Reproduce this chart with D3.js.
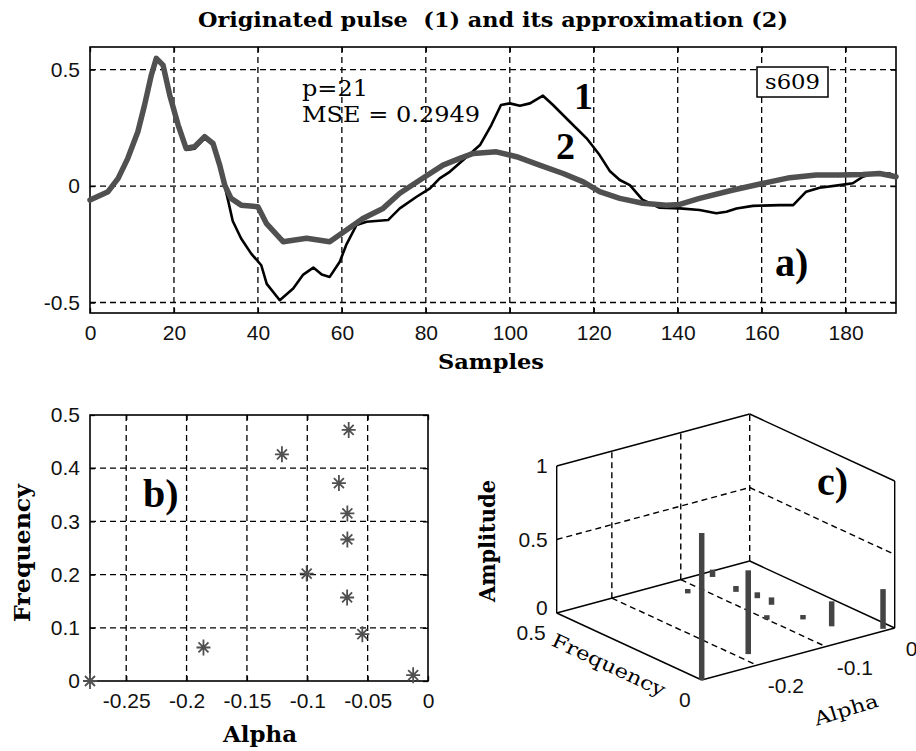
<!DOCTYPE html>
<html>
<head>
<meta charset="utf-8">
<script src="https://cdn.jsdelivr.net/npm/d3@7/dist/d3.min.js"></script>
<style>
body{margin:0;background:#fff;}
text{white-space:pre;}
</style>
</head>
<body>
<svg id="chart" width="916" height="751"></svg>
<script>
//originated pulse (1)
var pulseSamples = [0,2,4,6,8,10,12,13,14.4,15.6,17.2,19,21,22.9,24.9,27.3,29.3,30.9,32.1,33,34,36,38.4,40.8,42.1,45.2,48.4,50.8,53.2,55.2,57.1,59.5,61.1,63.5,65.9,71,73.8,77.8,81,83.3,85.7,88.9,92.9,95.6,97.9,100,102.4,104.8,107.9,110.3,114.3,118.3,121.4,123.8,126.2,128.6,131.7,135.7,140.5,145.2,149.2,151.6,154,157.9,164.3,167.5,170.6,173.8,178.6,181.7,184.1,186.5,190.5,192];
var pulseValues = [-0.06,-0.045,-0.025,0.02,0.08,0.16,0.27,0.35,0.47,0.55,0.52,0.39,0.26,0.155,0.16,0.205,0.175,0.085,0.0,-0.07,-0.15,-0.225,-0.29,-0.34,-0.42,-0.49,-0.44,-0.38,-0.35,-0.38,-0.39,-0.325,-0.25,-0.167,-0.153,-0.146,-0.096,-0.046,-0.01,0.033,0.061,0.112,0.176,0.262,0.348,0.355,0.345,0.355,0.388,0.348,0.276,0.205,0.133,0.065,0.026,0.004,-0.06,-0.093,-0.096,-0.103,-0.117,-0.11,-0.096,-0.085,-0.082,-0.082,-0.024,-0.007,0.004,0.012,0.04,0.054,0.054,0.04];

//its approximation (2)
var approxSamples = [0,4.3,6.7,9,11.4,13,14.6,15.8,17.4,19,21,22.9,24.9,27.3,29.3,30.9,32.1,33.6,36,40,42,46,51.6,57.1,61.1,65,69.8,73.8,78.6,84.1,88.1,91.3,96.8,101.6,107.1,112.7,117.5,121.4,126.2,131.7,137.3,140.5,145.2,153.2,161.1,166.7,173,178.6,184.1,188.1,192];
var approxValues = [-0.06,-0.024,0.033,0.119,0.233,0.348,0.476,0.548,0.519,0.39,0.262,0.162,0.169,0.212,0.183,0.09,0.004,-0.053,-0.082,-0.089,-0.16,-0.239,-0.224,-0.239,-0.189,-0.139,-0.096,-0.031,0.026,0.09,0.119,0.14,0.147,0.126,0.09,0.054,0.018,-0.024,-0.053,-0.074,-0.082,-0.079,-0.053,-0.017,0.015,0.036,0.047,0.047,0.05,0.054,0.04];

var sampleTicks = [0,20,40,60,80,100,120,140,160,180];
var pulseTicks = [-0.5,0,0.5];

//poles of the model: damping, frequency and amplitude
var poleAlpha = [-0.28,-0.186,-0.121,-0.1005,-0.0738,-0.0668,-0.0668,-0.067,-0.0657,-0.0544,-0.0123];
var poleFreq = [0,0.063,0.426,0.202,0.372,0.315,0.266,0.157,0.472,0.088,0.011];
var poleAmp = [1.0,0.57,0.03,0.03,0.04,0.04,0.05,0.03,0.05,0.17,0.27];

var alphaTicks = [-0.25,-0.2,-0.15,-0.1,-0.05,0];
var freqTicks = [0,0.1,0.2,0.3,0.4,0.5];
var alphaTicks3d = [-0.2,-0.1,0];
var freqTicks3d = [0,0.5];
var ampTicks3d = [0,0.5,1];

var svg = d3.select("#chart");
var serif = "'DejaVu Serif', serif";
var serifNarrow = "'Liberation Serif', serif";
var sans = "'Liberation Sans', Arial, sans-serif";
var dash = "6,4";

//puts a text on the svg, with an optional forced width
var addText = function(x, y, str, size, weight, anchor, family, len, rot)
{
    var t = svg.append("text")
        .attr("x", x)
        .attr("y", y)
        .attr("font-family", family || serif)
        .attr("font-size", size)
        .attr("font-weight", weight || "normal")
        .attr("text-anchor", anchor || "start")
        .text(str);
    if (len) { t.attr("textLength", len).attr("lengthAdjust", "spacingAndGlyphs"); }
    if (rot) { t.attr("transform", "rotate(" + rot + "," + x + "," + y + ")"); }
    return t;
}

//frame, dashed grid and inward ticks of a 2d panel
var drawPanel = function(xScale, yScale, xTicks, yTicks)
{
    var g = svg.append("g");
    var x0 = xScale.range()[0], x1 = xScale.range()[1];
    var y0 = yScale.range()[0], y1 = yScale.range()[1];

    g.selectAll(".gx").data(xTicks.filter(function(d){ return xScale(d) > x0 + 1 && xScale(d) < x1 - 1; }))
        .enter().append("line")
        .attr("x1", function(d){ return xScale(d); })
        .attr("x2", function(d){ return xScale(d); })
        .attr("y1", y0).attr("y2", y1)
        .attr("stroke", "#000").attr("stroke-width", 1.3).attr("stroke-dasharray", dash);

    g.selectAll(".gy").data(yTicks.filter(function(d){ return yScale(d) < y0 - 1 && yScale(d) > y1 + 1; }))
        .enter().append("line")
        .attr("y1", function(d){ return yScale(d); })
        .attr("y2", function(d){ return yScale(d); })
        .attr("x1", x0).attr("x2", x1)
        .attr("stroke", "#000").attr("stroke-width", 1.3).attr("stroke-dasharray", dash);

    var fmt = function(d){ return String(d); };

    var axes = [
        [d3.axisBottom(xScale).tickValues(xTicks).tickFormat(fmt).tickPadding(12), "translate(0," + y0 + ")"],
        [d3.axisTop(xScale).tickValues(xTicks).tickFormat(""), "translate(0," + y1 + ")"],
        [d3.axisLeft(yScale).tickValues(yTicks).tickFormat(fmt).tickPadding(10), "translate(" + x0 + ",0)"],
        [d3.axisRight(yScale).tickValues(yTicks).tickFormat(""), "translate(" + x1 + ",0)"]
    ];
    axes.forEach(function(a)
    {
        var ax = g.append("g")
            .attr("transform", a[1])
            .call(a[0].tickSize(-5).tickSizeOuter(0));
        ax.select(".domain").remove();
        ax.attr("font-family", sans).attr("font-size", 21);
        ax.selectAll("text").attr("fill", "#111");
        ax.selectAll("line").attr("stroke", "#000").attr("stroke-width", 1.3);
    });

    g.append("rect")
        .attr("x", x0).attr("y", y1)
        .attr("width", x1 - x0).attr("height", y0 - y1)
        .attr("fill", "none").attr("stroke", "#000").attr("stroke-width", 1.6);
    return g;
}

// ---------- a) pulse and approximation ----------
var xA = d3.scaleLinear().domain([0,192]).range([90,896]);
var yA = d3.scaleLinear().domain([-0.545,0.597]).range([313,47]);
drawPanel(xA, yA, sampleTicks, pulseTicks);

var pulseLine = d3.line()
    .x(function(d){ return xA(d[0]); })
    .y(function(d){ return yA(d[1]); });

svg.append("path")
    .datum(d3.zip(pulseSamples, pulseValues))
    .attr("d", pulseLine)
    .attr("fill", "none").attr("stroke", "#000").attr("stroke-width", 2.6)
    .attr("stroke-linejoin", "round");

svg.append("path")
    .datum(d3.zip(approxSamples, approxValues))
    .attr("d", pulseLine)
    .attr("fill", "none").attr("stroke", "#505050").attr("stroke-width", 5.5)
    .attr("stroke-linejoin", "round").attr("stroke-linecap", "round");

addText(493, 27, "Originated pulse  (1) and its approximation (2)", 21, "bold", "middle", serif, 590);
addText(491, 369, "Samples", 21, "bold", "middle", serif, 106);
addText(302, 96, "p=21", 22, "normal", "start", serif, 66);
addText(302, 122, "MSE = 0.2949", 22, "normal", "start", serif, 178);
addText(574, 109, "1", 38, "bold", "start", serifNarrow);
addText(556, 159, "2", 38, "bold", "start", serifNarrow);
addText(775, 276, "a)", 40, "bold", "start", serifNarrow);

svg.append("rect")
    .attr("x", 757).attr("y", 67).attr("width", 71).attr("height", 30)
    .attr("fill", "#fff").attr("stroke", "#000").attr("stroke-width", 1.5);
addText(792.5, 89, "s609", 21, "normal", "middle", serif, 55);

// ---------- b) poles on the alpha / frequency plane ----------
var xB = d3.scaleLinear().domain([-0.28,0]).range([90,428]);
var yB = d3.scaleLinear().domain([0,0.5]).range([681,415]);
drawPanel(xB, yB, alphaTicks, freqTicks);

var star = "M-7,0H7M0,-8V8M-5,-5L5,5M-5,5L5,-5";
svg.append("g").selectAll("path")
    .data(d3.zip(poleAlpha, poleFreq))
    .enter().append("path")
    .attr("d", star)
    .attr("transform", function(d){ return "translate(" + xB(d[0]) + "," + yB(d[1]) + ")"; })
    .attr("stroke", "#505050").attr("stroke-width", 1.8).attr("fill", "none");

addText(260, 742, "Alpha", 22, "bold", "middle", serif, 74);
addText(30, 553, "Frequency", 22, "bold", "middle", serif, 138, -90);
addText(143, 507, "b)", 40, "bold", "start", serifNarrow);

// ---------- c) amplitudes in 3d ----------
var aS = d3.scaleLinear().domain([-0.28,0]).range([0,1]);
var fS = d3.scaleLinear().domain([0,0.5]).range([0,1]);
var zS = d3.scaleLinear().domain([0,1]).range([0,1]);
var origin = [701.7, 680];
var vecA = [193, -52], vecF = [-145, -67], vecZ = [0, -147];

//projects a point (alpha, frequency, amplitude) onto the page
var proj = function(a, f, z)
{
    var u = aS(a), v = fS(f), w = zS(z);
    return [origin[0] + u*vecA[0] + v*vecF[0] + w*vecZ[0],
            origin[1] + u*vecA[1] + v*vecF[1] + w*vecZ[1]];
}

var seg = function(p, q, dashed, width)
{
    svg.append("line")
        .attr("x1", p[0]).attr("y1", p[1])
        .attr("x2", q[0]).attr("y2", q[1])
        .attr("stroke", "#000")
        .attr("stroke-width", width || 1.4)
        .attr("stroke-dasharray", dashed ? dash : null);
}

var aMin = -0.28, aMax = 0, fMax = 0.5;

//dashed grid on the back walls and the floor
alphaTicks3d.filter(function(d){ return d < aMax; }).forEach(function(a)
{
    seg(proj(a, fMax, 0), proj(a, fMax, 1), true);
    seg(proj(a, fMax, 0), proj(a, 0, 0), true);
});
seg(proj(aMin, fMax, 0.5), proj(aMax, fMax, 0.5), true);
seg(proj(aMax, fMax, 0.5), proj(aMax, 0, 0.5), true);
seg(proj(aMax, fMax, 0), proj(aMax, fMax, 1), true);

//box edges
seg(proj(aMin, fMax, 0), proj(aMin, fMax, 1));
seg(proj(aMax, 0, 0), proj(aMax, 0, 1));
seg(proj(aMin, fMax, 1), proj(aMax, fMax, 1));
seg(proj(aMax, fMax, 1), proj(aMax, 0, 1));
seg(proj(aMin, fMax, 0), proj(aMax, fMax, 0));
seg(proj(aMax, fMax, 0), proj(aMax, 0, 0));
seg(proj(aMin, fMax, 0), proj(aMin, 0, 0));
seg(proj(aMin, 0, 0), proj(aMax, 0, 0));

//stems, drawn from back to front
var stems = d3.range(poleAlpha.length).map(function(i)
{
    return {a: poleAlpha[i], f: poleFreq[i], z: poleAmp[i]};
});
stems.sort(function(p, q){ return proj(p.a, p.f, 0)[1] - proj(q.a, q.f, 0)[1]; });
svg.append("g").selectAll("line")
    .data(stems)
    .enter().append("line")
    .attr("x1", function(d){ return proj(d.a, d.f, 0)[0]; })
    .attr("y1", function(d){ return proj(d.a, d.f, 0)[1]; })
    .attr("x2", function(d){ return proj(d.a, d.f, d.z)[0]; })
    .attr("y2", function(d){ return proj(d.a, d.f, d.z)[1]; })
    .attr("stroke", "#444").attr("stroke-width", 5.5);

//tick labels of the 3d box
ampTicks3d.forEach(function(z)
{
    var p = proj(aMin, fMax, z);
    addText(p[0] - 9, p[1] + (z === 0 ? 2 : 7), String(z), 21, "normal", "end", sans).attr("fill", "#111");
});
freqTicks3d.forEach(function(f)
{
    var p = proj(aMin, f, 0);
    addText(p[0] - 11, p[1] + 27, String(f), 21, "normal", "end", sans).attr("fill", "#111");
});
alphaTicks3d.forEach(function(a)
{
    var p = proj(a, 0, 0);
    addText(p[0] + 11, p[1] + 28, String(a), 21, "normal", "start", sans).attr("fill", "#111");
});

addText(495, 541, "Amplitude", 22, "bold", "middle", serif, 122, -90);
addText(606, 671, "Frequency", 19, "normal", "middle", serif, 123, 25);
addText(848, 716, "Alpha", 19, "normal", "middle", serif, 66, -17);
addText(817, 495, "c)", 40, "bold", "start", serifNarrow);
</script>
</body>
</html>
